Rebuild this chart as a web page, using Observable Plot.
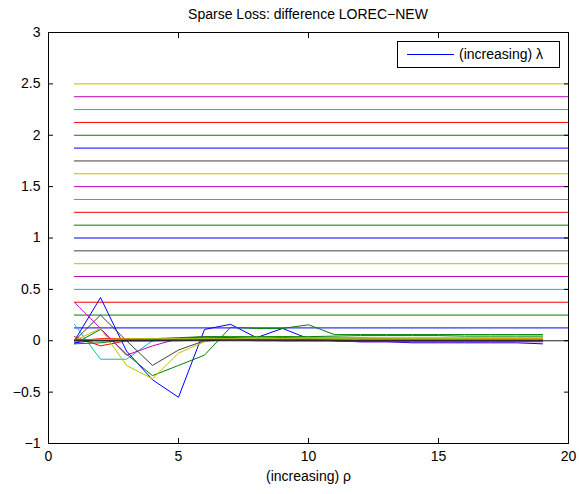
<!DOCTYPE html>
<html>
<head>
<meta charset="utf-8">
<script src="https://cdn.jsdelivr.net/npm/d3@7"></script>
<script src="https://cdn.jsdelivr.net/npm/@observablehq/plot@0.6"></script>
<style>
  body { margin: 0; background: #fff; }
  #wrap { position: relative; width: 579px; height: 494px; font-family: "Liberation Sans", Arial, Helvetica, sans-serif; color: #000; }
  #title { height: 24px; box-sizing: border-box; padding-top: 6px; line-height: 16px; font-size: 14px; text-align: center; padding-left: 48px; padding-right: 11px; }
  #legend { position: absolute; left: 397px; top: 41px; width: 161px; height: 25px; border: 1px solid #000; background: #fff; }
  #legend svg { position: absolute; left: 0; top: 0; }
  #legend span { position: absolute; left: 61px; top: 4px; font-size: 14px; line-height: 16px; white-space: nowrap; }
</style>
</head>
<body>
<div id="wrap">
  <div id="title"></div>
  <div id="chart"></div>
  <div id="legend"></div>
</div>
<script>
// ---- text ----
const titleText = "Sparse Loss: difference LOREC\u2212NEW";
const xLabel = "(increasing) \u03c1";
const legendLabel = "(increasing) \u03bb";

// ---- axes ----
const xDomain = [0, 20];
const yDomain = [-1, 3];
const xTicks = [0, 5, 10, 15, 20];
const yTicks = [-1, -0.5, 0, 0.5, 1, 1.5, 2, 2.5, 3];

// ---- MATLAB colour order ----
const colorOrder = ["#0000ff", "#008000", "#ff0000", "#00bfbf", "#bf00bf", "#bfbf00", "#404040"];

// ---- horizontal reference lines (one per lambda) ----
const levels = [0.125, 0.25, 0.375, 0.5, 0.625, 0.75, 0.875, 1, 1.125, 1.25, 1.375, 1.5, 1.625, 1.75, 1.875, 2, 2.125, 2.25, 2.375, 2.5];
const levelStart = 1;
const levelEnd = 20;
const zeroLevel = [0];

// ---- rho values ----
const rho = [1, 2, 3, 4, 5, 6, 7, 8, 9, 10, 11, 12, 13, 14, 15, 16, 17, 18, 19];

// ---- difference curves (one per lambda) ----
const lam01 = [0.00, 0.42, -0.10, -0.38, -0.55, 0.11, 0.16, 0.03, 0.12, 0.02, 0.00, -0.01, -0.01, -0.02, -0.02, -0.02, -0.02, -0.02, -0.03];
const lam02 = [-0.03, 0.11, -0.13, -0.34, -0.24, -0.14, 0.13, 0.12, 0.12, 0.155, 0.06, 0.06, 0.06, 0.06, 0.06, 0.06, 0.06, 0.06, 0.06];
const lam03 = [0.04, -0.05, 0.00, 0.01, 0.02, 0.03, 0.03, 0.03, 0.03, 0.03, 0.03, 0.03, 0.02, 0.02, 0.02, 0.02, 0.02, 0.02, 0.02];
const lam04 = [0.16, -0.18, -0.18, 0.00, 0.02, 0.03, 0.03, 0.03, 0.02, 0.02, 0.02, 0.02, 0.02, 0.02, 0.02, 0.02, 0.01, 0.01, 0.01];
const lam05 = [0.375, 0.12, -0.14, -0.05, 0.02, 0.04, 0.03, 0.02, 0.02, 0.01, 0.01, 0.01, 0.01, 0.01, 0.01, 0.01, 0.01, 0.01, 0.01];
const lam06 = [0.00, 0.12, -0.24, -0.37, -0.12, -0.01, 0.02, 0.03, 0.04, 0.03, 0.03, 0.03, 0.03, 0.03, 0.03, 0.03, 0.03, 0.03, 0.03];
const lam07 = [0.00, 0.25, 0.00, -0.24, -0.09, 0.00, 0.01, 0.02, 0.02, 0.02, 0.02, 0.02, 0.02, 0.01, 0.01, 0.01, 0.01, 0.01, 0.01];
const lam08 = [-0.02, 0.01, 0.00, 0.00, 0.01, 0.01, 0.01, 0.01, 0.00, 0.00, 0.00, 0.00, 0.00, 0.00, 0.00, 0.00, 0.00, 0.00, 0.00];
const lam09 = [-0.03, -0.02, 0.01, 0.02, 0.03, 0.04, 0.04, 0.04, 0.04, 0.04, 0.045, 0.05, 0.05, 0.05, 0.05, 0.045, 0.045, 0.045, 0.045];
const lam10 = [0.00, 0.02, 0.02, 0.02, 0.02, 0.02, 0.02, 0.02, 0.02, 0.02, 0.01, 0.01, 0.01, 0.01, 0.01, 0.01, 0.01, 0.01, 0.01];
const lam11 = [0.01, 0.00, 0.01, 0.02, 0.02, 0.02, 0.02, 0.02, 0.02, 0.02, 0.02, 0.01, 0.01, 0.01, 0.01, 0.01, 0.01, 0.01, 0.01];
const lam12 = [0.01, 0.01, 0.01, 0.01, 0.01, 0.01, 0.01, 0.00, 0.00, 0.00, 0.00, -0.01, -0.01, -0.01, -0.01, -0.01, -0.01, -0.01, -0.01];
const lam13 = [0.00, 0.01, 0.02, 0.02, 0.02, 0.02, 0.02, 0.02, 0.02, 0.02, 0.02, 0.02, 0.02, 0.02, 0.02, 0.02, 0.02, 0.02, 0.02];
const lam14 = [0.00, 0.00, 0.00, 0.00, 0.00, 0.01, 0.01, 0.01, 0.01, 0.01, 0.00, 0.00, 0.00, 0.00, 0.00, 0.00, 0.00, 0.00, 0.00];
const curves = [lam01, lam02, lam03, lam04, lam05, lam06, lam07, lam08, lam09, lam10, lam11, lam12, lam13, lam14];

// ---- build tables ----
const levelRows = levels.map((v, i) => ({ y: v, x1: levelStart, x2: levelEnd, color: colorOrder[i % colorOrder.length] }));
const zeroRows = zeroLevel.map(v => ({ y: v, x1: levelStart, x2: levelEnd }));
const curveMarks = curves.map((vals, i) =>
  Plot.line(rho.map((r, j) => ({ x: r, y: vals[j] })), { x: "x", y: "y", stroke: colorOrder[i % colorOrder.length], strokeWidth: 1 })
);
const fmt = d => String(d).replace("-", "\u2212");

const chart = Plot.plot({
  width: 579,
  height: 470,
  marginLeft: 48,
  marginRight: 11,
  marginTop: 8,
  marginBottom: 51,
  style: { fontFamily: "'Liberation Sans', Arial, Helvetica, sans-serif", fontSize: "14px", background: "#fff", color: "#000", overflow: "visible" },
  x: { domain: xDomain, label: null },
  y: { domain: yDomain, label: null },
  marks: [
    Plot.ruleY(levelRows, { y: "y", x1: "x1", x2: "x2", stroke: "color", strokeWidth: 1 }),
    ...curveMarks,
    Plot.ruleY(zeroRows, { y: "y", x1: "x1", x2: "x2", stroke: "#202020", strokeWidth: 1 }),
    Plot.frame({ stroke: "#000", strokeWidth: 1 }),
    // tick labels
    Plot.axisX({ anchor: "bottom", ticks: xTicks, tickSize: 0, tickPadding: 8, tickFormat: fmt, label: null }),
    Plot.axisY({ anchor: "left", ticks: yTicks, tickSize: 0, tickPadding: 8, tickFormat: fmt, label: null }),
    // inward tick marks on all four sides
    Plot.axisX({ anchor: "bottom", ticks: xTicks, tickSize: 5, dy: -5, fill: "none", label: null }),
    Plot.axisX({ anchor: "top", ticks: xTicks, tickSize: 5, dy: 5, fill: "none", label: null }),
    Plot.axisY({ anchor: "left", ticks: yTicks, tickSize: 5, dx: 5, fill: "none", label: null }),
    Plot.axisY({ anchor: "right", ticks: yTicks, tickSize: 5, dx: -5, fill: "none", label: null }),
    // x axis title
    Plot.text([xLabel], { frameAnchor: "bottom", dy: 33, lineAnchor: "middle", fontSize: 14, text: d => d })
  ]
});

document.getElementById("title").textContent = titleText;
document.getElementById("chart").appendChild(chart);

// legend
const leg = document.getElementById("legend");
leg.innerHTML = `<svg width="161" height="25"><line x1="9" x2="56" y1="12.5" y2="12.5" stroke="${colorOrder[0]}" stroke-width="1"/></svg><span></span>`;
leg.querySelector("span").textContent = legendLabel;
</script>
</body>
</html>
